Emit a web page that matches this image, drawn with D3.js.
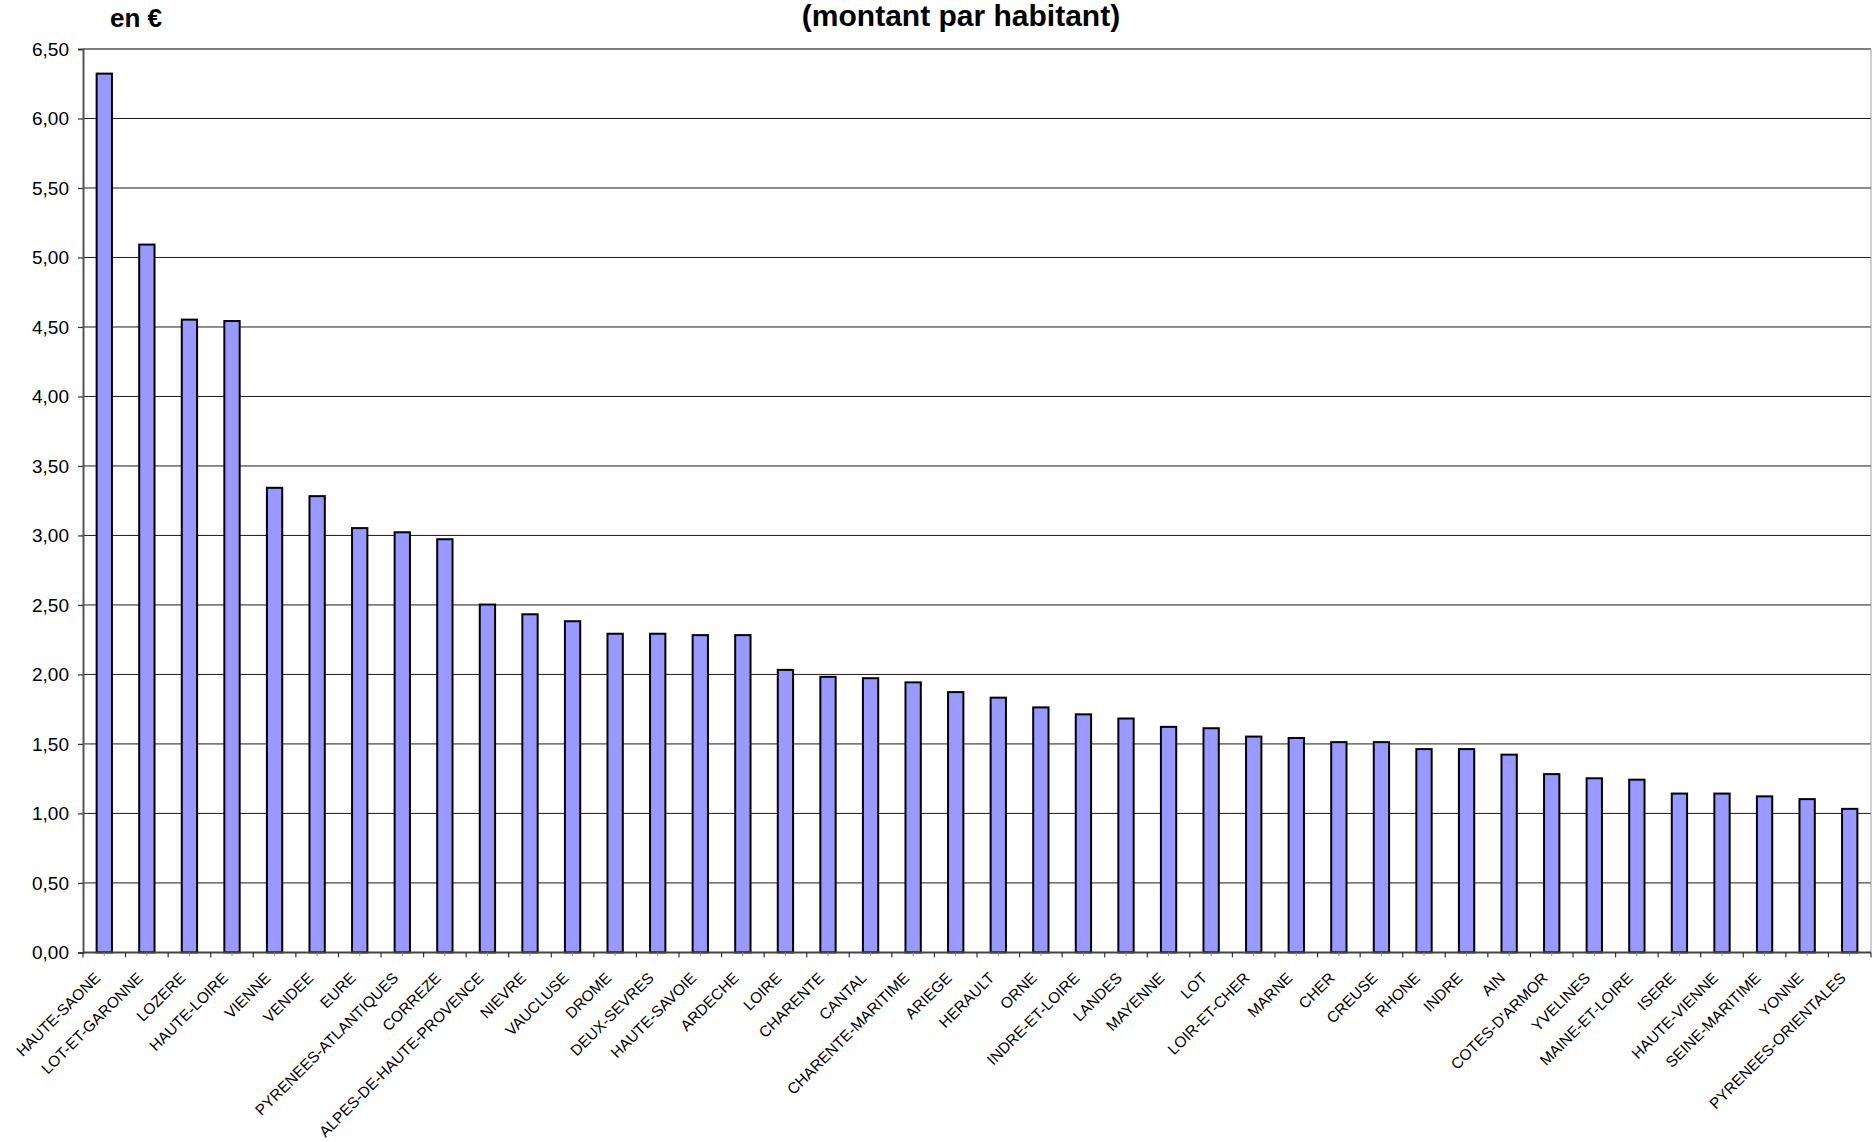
<!DOCTYPE html>
<html>
<head>
<meta charset="utf-8">
<script src="https://cdn.jsdelivr.net/npm/d3@7"></script>
<style>
  html, body { margin: 0; padding: 0; background: #fff; }
  svg { display: block; font-family: "Liberation Sans", Arial, sans-serif; }
</style>
</head>
<body>
<svg id="chart" width="1872" height="1142"></svg>
<script>
// Départements, sorted by amount per inhabitant (in €)
const departements = [
  "HAUTE-SAONE", "LOT-ET-GARONNE", "LOZERE", "HAUTE-LOIRE", "VIENNE", "VENDEE",
  "EURE", "PYRENEES-ATLANTIQUES", "CORREZE", "ALPES-DE-HAUTE-PROVENCE", "NIEVRE",
  "VAUCLUSE", "DROME", "DEUX-SEVRES", "HAUTE-SAVOIE", "ARDECHE", "LOIRE",
  "CHARENTE", "CANTAL", "CHARENTE-MARITIME", "ARIEGE", "HERAULT", "ORNE",
  "INDRE-ET-LOIRE", "LANDES", "MAYENNE", "LOT", "LOIR-ET-CHER", "MARNE", "CHER",
  "CREUSE", "RHONE", "INDRE", "AIN", "COTES-D'ARMOR", "YVELINES",
  "MAINE-ET-LOIRE", "ISERE", "HAUTE-VIENNE", "SEINE-MARITIME", "YONNE",
  "PYRENEES-ORIENTALES"
];

const montants = [
  6.33, 5.10, 4.56, 4.55, 3.35, 3.29,
  3.06, 3.03, 2.98, 2.51, 2.44,
  2.39, 2.30, 2.30, 2.29, 2.29, 2.04,
  1.99, 1.98, 1.95, 1.88, 1.84, 1.77,
  1.72, 1.69, 1.63, 1.62, 1.56, 1.55, 1.52,
  1.52, 1.47, 1.47, 1.43, 1.29, 1.26,
  1.25, 1.15, 1.15, 1.13, 1.11,
  1.04
];

const yTicks = [0, 0.5, 1, 1.5, 2, 2.5, 3, 3.5, 4, 4.5, 5, 5.5, 6, 6.5];

const titre = "(montant par habitant)";
const unite = "en €";

const data = departements.map((d, i) => ({ dep: d, v: montants[i] }));

const svg = d3.select("#chart");
const plot = { left: 83, right: 1871, top: 49, bottom: 952.4 };

const x = d3.scaleBand()
  .domain(departements)
  .range([plot.left, plot.right])
  .padding(0);

const y = d3.scaleLinear()
  .domain([0, 6.5])
  .range([plot.bottom, plot.top]);

const fmt = v => d3.format(".2f")(v).replace(".", ",");

// Horizontal gridlines
svg.append("g")
  .selectAll("line")
  .data(yTicks.filter(t => t > 0 && t < 6.5))
  .join("line")
  .attr("x1", plot.left).attr("x2", plot.right)
  .attr("y1", d => y(d)).attr("y2", d => y(d))
  .attr("stroke", "#1a1a1a")
  .attr("stroke-width", 1);

// Plot frame (top and right)
svg.append("line")
  .attr("x1", plot.left).attr("x2", plot.right)
  .attr("y1", y(6.5)).attr("y2", y(6.5))
  .attr("stroke", "#808080").attr("stroke-width", 2);
svg.append("line")
  .attr("x1", plot.right).attr("x2", plot.right)
  .attr("y1", y(6.5)).attr("y2", y(0))
  .attr("stroke", "#a0a0a0").attr("stroke-width", 1);

// Bars
const barW = x.bandwidth() * 0.36;
svg.append("g")
  .selectAll("rect")
  .data(data)
  .join("rect")
  .attr("x", d => x(d.dep) + x.bandwidth() / 2 - barW / 2)
  .attr("y", d => y(d.v) + 1)
  .attr("width", barW)
  .attr("height", d => y(0) - y(d.v) - 1)
  .attr("fill", "#9999ff")
  .attr("stroke", "#000")
  .attr("stroke-width", 2);

// Y axis
const yAxis = d3.axisLeft(y)
  .tickValues(yTicks)
  .tickFormat(fmt)
  .tickSize(5)
  .tickPadding(9);

const gy = svg.append("g")
  .attr("transform", `translate(${plot.left},0)`)
  .call(yAxis);
gy.select(".domain").attr("stroke", "#555").attr("stroke-width", 2);
gy.selectAll(".tick line").attr("stroke", "#333").attr("stroke-width", 1.2);
gy.selectAll(".tick text")
  .attr("font-size", 19)
  .attr("fill", "#000");

// X axis: ticks between categories and at their centres
const gx = svg.append("g");
gx.append("line")
  .attr("x1", plot.left).attr("x2", plot.right)
  .attr("y1", y(0)).attr("y2", y(0))
  .attr("stroke", "#444").attr("stroke-width", 2);

const bounds = departements.map(d => x(d)).concat([plot.right]);
gx.selectAll(".tb")
  .data(bounds)
  .join("line")
  .attr("class", "tb")
  .attr("x1", d => d).attr("x2", d => d)
  .attr("y1", y(0)).attr("y2", y(0) + 5)
  .attr("stroke", "#333").attr("stroke-width", 1.2);
gx.selectAll(".tc")
  .data(departements)
  .join("line")
  .attr("class", "tc")
  .attr("x1", d => x(d) + x.bandwidth() / 2).attr("x2", d => x(d) + x.bandwidth() / 2)
  .attr("y1", y(0)).attr("y2", y(0) + 3.5)
  .attr("stroke", "#888").attr("stroke-width", 1);

// Rotated category labels
gx.selectAll("text")
  .data(departements)
  .join("text")
  .attr("transform", d => `translate(${x(d) + x.bandwidth() / 2 - 3},${y(0) + 26.5}) rotate(-45)`)
  .attr("text-anchor", "end")
  .attr("font-size", 15.4)
  .attr("fill", "#000")
  .text(d => d);

// Title and unit
svg.append("text")
  .attr("x", 961).attr("y", 26)
  .attr("text-anchor", "middle")
  .attr("font-size", 30)
  .attr("font-weight", "bold")
  .text(titre);

svg.append("text")
  .attr("x", 110).attr("y", 27)
  .attr("font-size", 26)
  .attr("font-weight", "bold")
  .text(unite);
</script>
</body>
</html>
